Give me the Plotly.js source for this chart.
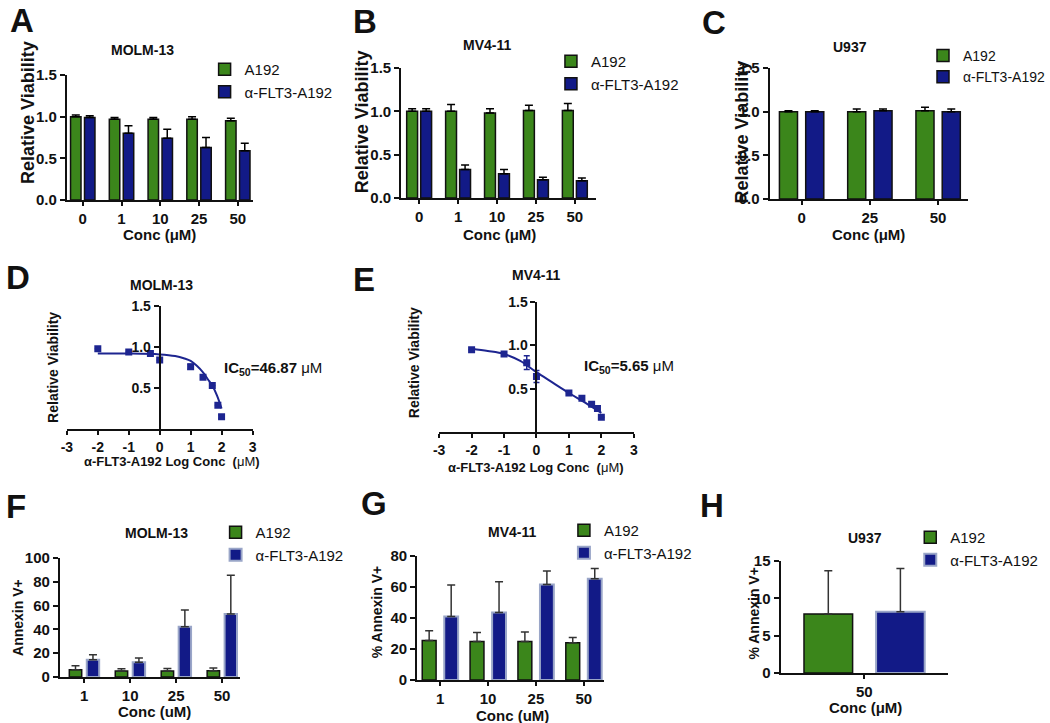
<!DOCTYPE html>
<html>
<head>
<meta charset="utf-8">
<script src="https://cdn.plot.ly/plotly-3.0.1.min.js"></script>
<style>
  body { margin: 0; background: #fff; }
  #fig { width: 1050px; height: 723px; }
</style>
</head>
<body>
<div id="fig"></div>
<script>
// ---------- data ----------
// A-C: relative viability
const concABC = ['0', '1', '10', '25', '50'];
const molmA192 = [1.00, 0.97, 0.97, 0.97, 0.95];
const molmA192Err = [0.02, 0.02, 0.02, 0.03, 0.03];
const molmFlt = [0.99, 0.80, 0.74, 0.63, 0.59];
const molmFltErr = [0.02, 0.09, 0.11, 0.12, 0.09];

const mv4A192 = [1.00, 1.00, 0.98, 1.01, 1.01];
const mv4A192Err = [0.03, 0.08, 0.05, 0.06, 0.08];
const mv4Flt = [1.00, 0.33, 0.28, 0.21, 0.20];
const mv4FltErr = [0.03, 0.05, 0.05, 0.03, 0.03];

const concU937 = ['0', '25', '50'];
const u937A192 = [1.00, 1.00, 1.01];
const u937A192Err = [0.01, 0.03, 0.04];
const u937Flt = [1.00, 1.01, 1.00];
const u937FltErr = [0.01, 0.02, 0.03];

// D-E: dose response (log10 conc, uM)
const logTicks = [-3, -2, -1, 0, 1, 2, 3];
const logTickText = ['-3', '-2', '-1', '0', '1', '2', '3'];
const logConc = [-2, -1, -0.3, 0, 1, 1.4, 1.7, 1.88, 2];
const molmDose = [0.98, 0.94, 0.92, 0.84, 0.76, 0.63, 0.53, 0.29, 0.15];
const molmDoseErr = [0, 0, 0, 0, 0.03, 0.02, 0, 0, 0.02];
const molmFitX = [-2, -1, 0, 0.5, 0.8, 1.0, 1.2, 1.4, 1.55, 1.7, 1.85, 2.0];
const molmFitY = [0.92, 0.92, 0.91, 0.89, 0.86, 0.83, 0.77, 0.69, 0.61, 0.53, 0.41, 0.25];

const mv4Dose = [0.95, 0.90, 0.80, 0.64, 0.45, 0.39, 0.32, 0.27, 0.17];
const mv4DoseErr = [0, 0, 0.08, 0.07, 0, 0, 0, 0.03, 0];
const mv4FitX = [-2, -1.5, -1, -0.5, 0, 0.5, 1, 1.5, 2];
const mv4FitY = [0.96, 0.935, 0.90, 0.82, 0.69, 0.57, 0.45, 0.34, 0.22];

// F-H: % Annexin V+
const concFG = ['1', '10', '25', '50'];
const molmAnnA192 = [6.1, 5.0, 5.0, 5.3];
const molmAnnA192Err = [3.4, 2.0, 2.2, 2.2];
const molmAnnFlt = [14.5, 12.3, 42.3, 52.9];
const molmAnnFltErr = [4.2, 3.6, 14.0, 32.6];

const mv4AnnA192 = [25.5, 24.9, 24.9, 24.0];
const mv4AnnA192Err = [6.3, 5.7, 6.1, 3.4];
const mv4AnnFlt = [41.0, 43.5, 61.6, 65.3];
const mv4AnnFltErr = [20.3, 19.9, 8.8, 6.7];

const concH = ['50'];
const u937AnnA192 = [7.9];
const u937AnnA192Err = [5.8];
const u937AnnFlt = [8.2];
const u937AnnFltErr = [5.8];

// ---------- style ----------
const FONT = 'Liberation Sans, Arial, sans-serif';
const GREEN = '#3b861b';
const BLUE = '#121a87';
const CURVE = '#1d2590';
const W = 1050, H = 723;
const px = x => x / W;
const py = y => 1 - y / H;

function errs(arr, color) {
  return {type: 'data', array: arr, arrayminus: arr.map(() => 0), symmetric: false,
          color: color || '#000', thickness: 1.5, width: 4};
}

function barPair(n, cats, g, gErr, b, bErr, w, gap, lg, soft) {
  return [
    {type: 'bar', x: cats, y: g, name: 'A192', xaxis: 'x' + n, yaxis: 'y' + n,
     width: w, offset: -(w + gap / 2), legend: lg,
     marker: {color: GREEN, line: {color: '#111', width: 1.5}},
     error_y: errs(gErr, soft ? '#333' : '#000')},
    {type: 'bar', x: cats, y: b, name: 'α-FLT3-A192', xaxis: 'x' + n, yaxis: 'y' + n,
     width: w, offset: gap / 2, legend: lg,
     marker: {color: BLUE, line: {color: soft ? '#9aa6c8' : '#111', width: soft ? 2 : 1.5}},
     error_y: errs(bErr, soft ? '#333' : '#000')}
  ];
}

const data = [
  ...barPair('', concABC, molmA192, molmA192Err, molmFlt, molmFltErr, 0.27, 0.09, 'legend', false),
  ...barPair('2', concABC, mv4A192, mv4A192Err, mv4Flt, mv4FltErr, 0.28, 0.08, 'legend2', false),
  ...barPair('3', concU937, u937A192, u937A192Err, u937Flt, u937FltErr, 0.265, 0.12, 'legend3', false),
  {type: 'scatter', mode: 'lines', x: molmFitX, y: molmFitY, xaxis: 'x4', yaxis: 'y4',
   line: {color: CURVE, width: 2, shape: 'spline'}, showlegend: false},
  {type: 'scatter', mode: 'markers', x: logConc, y: molmDose, xaxis: 'x4', yaxis: 'y4',
   marker: {symbol: 'square', size: 7, color: CURVE}, showlegend: false,
   error_y: {type: 'data', array: molmDoseErr, color: CURVE, thickness: 1.5, width: 3}},
  {type: 'scatter', mode: 'lines', x: mv4FitX, y: mv4FitY, xaxis: 'x5', yaxis: 'y5',
   line: {color: CURVE, width: 2, shape: 'spline'}, showlegend: false},
  {type: 'scatter', mode: 'markers', x: logConc, y: mv4Dose, xaxis: 'x5', yaxis: 'y5',
   marker: {symbol: 'square', size: 7, color: CURVE}, showlegend: false,
   error_y: {type: 'data', array: mv4DoseErr, color: CURVE, thickness: 1.5, width: 3}},
  ...barPair('6', concFG, molmAnnA192, molmAnnA192Err, molmAnnFlt, molmAnnFltErr, 0.27, 0.11, 'legend4', true),
  ...barPair('7', concFG, mv4AnnA192, mv4AnnA192Err, mv4AnnFlt, mv4AnnFltErr, 0.29, 0.17, 'legend5', true),
  ...barPair('8', concH, u937AnnA192, u937AnnA192Err, u937AnnFlt, u937AnnFltErr, 0.29, 0.14, 'legend6', true)
];

// ---------- axes ----------
const tickFont = {family: FONT, size: 15, color: '#111', weight: 'bold'};
function xAx(left, right, range, extra) {
  return Object.assign({domain: [px(left), px(right)], range: range, showline: true,
    linecolor: '#111', linewidth: 2, ticks: 'outside', ticklen: 4, tickwidth: 2,
    tickcolor: '#111', showgrid: false, zeroline: false, tickfont: tickFont,
    fixedrange: true}, extra || {});
}
function yAx(bottom, top, range, extra) {
  return Object.assign({domain: [py(bottom), py(top)], range: range, showline: true,
    linecolor: '#111', linewidth: 2, ticks: 'outside', ticklen: 5, tickwidth: 2,
    tickcolor: '#111', showgrid: false, zeroline: false, tickfont: tickFont,
    fixedrange: true}, extra || {});
}
const cat = a => ({type: 'category', anchor: a});
const viab = {tickvals: [0, 0.5, 1, 1.5], tickformat: '.1f'};
const logX = {tickvals: logTicks, ticktext: logTickText,
              tickfont: Object.assign({}, tickFont, {size: 14})};
const doseY = {tickvals: [0.5, 1, 1.5], tickformat: '.1f', anchor: 'free',
               tickfont: Object.assign({}, tickFont, {size: 14})};

function legendAt(x, y, size) {
  return {x: px(x), y: py(y), xanchor: 'left', yanchor: 'top', bgcolor: 'rgba(0,0,0,0)',
          font: {family: FONT, size: size || 15, color: '#111'}, tracegroupgap: 0, itemclick: false};
}

// ---------- text ----------
function label(text, x, y, size, extra) {
  return Object.assign({text: text, x: px(x), y: py(y), xref: 'paper', yref: 'paper',
    showarrow: false, xanchor: 'center', yanchor: 'middle',
    font: {family: FONT, size: size, color: '#111', weight: 'bold'}}, extra || {});
}
const vert = {textangle: -90};
const um = '<span style="font-weight:normal">μM</span>';

const annotations = [
  label('A', 22, 20, 33), label('B', 366, 21, 33), label('C', 715, 22, 33),
  label('D', 18, 277, 33), label('E', 365, 279, 33), label('F', 16, 507, 33),
  label('G', 375, 503, 33), label('H', 713, 506, 33),

  label('MOLM-13', 143, 50, 14), label('MV4-11', 488, 45, 14), label('U937', 852, 47, 14),
  label('MOLM-13', 162, 285, 14), label('MV4-11', 537, 275, 14),
  label('MOLM-13', 157, 533, 14), label('MV4-11', 513, 532, 14), label('U937', 867, 538, 14),

  label('Relative Viability', 28, 112, 18, vert),
  label('Relative Viability', 363, 122, 18, vert),
  label('Relative Viability', 743, 132, 18, vert),
  label('Conc (μM)', 160, 235, 15), label('Conc (μM)', 500, 235, 15), label('Conc (μM)', 870, 235, 15),

  label('Relative Viability', 53, 367, 14, vert),
  label('Relative Viability', 415, 363, 14, vert),
  label('α-FLT3-A192 Log Conc  (' + um + ')', 172, 462, 13),
  label('α-FLT3-A192 Log Conc  (' + um + ')', 537, 467, 13),
  label('IC<sub>50</sub>=46.87 ' + um, 274, 368, 15),
  label('IC<sub>50</sub>=5.65 ' + um, 630, 366, 15),

  label('Annexin V+', 18, 617, 14, vert),
  label('% Annexin V+', 378, 612, 14, vert),
  label('% Annexin V+', 755, 614, 14, vert),
  label('Conc (uM)', 155, 711, 15), label('Conc (uM)', 513, 715, 15), label('Conc (μM)', 867, 707, 15)
];

const layout = {
  width: W, height: H,
  margin: {l: 0, r: 0, t: 0, b: 0},
  paper_bgcolor: '#fff', plot_bgcolor: 'rgba(0,0,0,0)',
  barmode: 'overlay',
  showlegend: true,
  font: {family: FONT, color: '#111'},

  xaxis:  xAx(67, 253, [-0.41, 4.38], cat('y')),
  yaxis:  yAx(200, 75, [0, 1.5], Object.assign({anchor: 'x'}, viab)),
  xaxis2: xAx(402, 597, [-0.46, 4.54], cat('y2')),
  yaxis2: yAx(198, 68, [0, 1.5], Object.assign({anchor: 'x2'}, viab)),
  xaxis3: xAx(771, 970, [-0.47, 2.44], cat('y3')),
  yaxis3: yAx(199, 68, [0, 1.5], Object.assign({anchor: 'x3'}, viab)),

  xaxis4: xAx(67, 253, [-3, 3], Object.assign({anchor: 'y4'}, logX)),
  yaxis4: yAx(429, 306, [0, 1.5], Object.assign({position: px(160)}, doseY)),
  xaxis5: xAx(440, 635, [-3, 3], Object.assign({anchor: 'y5'}, logX)),
  yaxis5: yAx(432, 302, [0, 1.5], Object.assign({position: px(537.5)}, doseY)),

  xaxis6: xAx(60, 240, [-0.53, 3.38], cat('y6')),
  yaxis6: yAx(677, 558, [0, 100], {dtick: 20, anchor: 'x6'}),
  xaxis7: xAx(418, 605, [-0.48, 3.42], cat('y7')),
  yaxis7: yAx(680, 556, [0, 80], {dtick: 20, anchor: 'x7'}),
  xaxis8: xAx(782, 950, [-0.5, 0.5], cat('y8')),
  yaxis8: yAx(673, 561, [0, 15], {dtick: 5, anchor: 'x8'}),

  legend:  legendAt(205, 53),
  legend2: legendAt(552, 45),
  legend3: legendAt(925, 40, 14),
  legend4: legendAt(216, 516),
  legend5: legendAt(565, 514),
  legend6: legendAt(912, 521),

  annotations: annotations
};

Plotly.newPlot('fig', data, layout, {displayModeBar: false, staticPlot: true});
</script>
</body>
</html>
